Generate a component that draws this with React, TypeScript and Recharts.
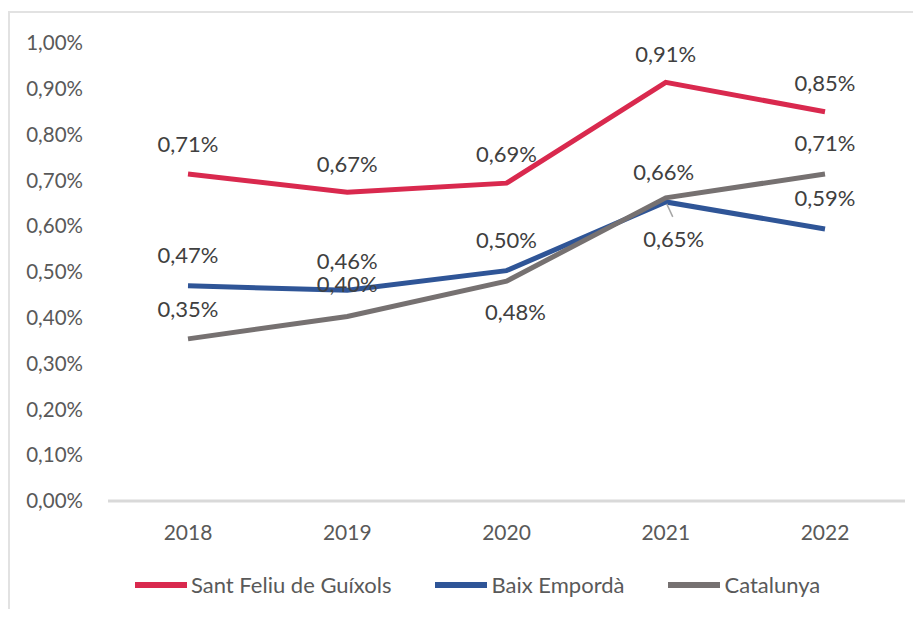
import { LineChart, Line, XAxis, YAxis, LabelList } from "recharts";

const years = ["2018", "2019", "2020", "2021", "2022"];
const santFeliu = [0.714, 0.674, 0.694, 0.914, 0.85];
const baixEmporda = [0.47, 0.46, 0.503, 0.653, 0.594];
const catalunya = [0.354, 0.403, 0.48, 0.662, 0.714];
const yTicks = [0, 0.1, 0.2, 0.3, 0.4, 0.5, 0.6, 0.7, 0.8, 0.9, 1.0];

const series = [
  { key: "santFeliu", name: "Sant Feliu de Guíxols", color: "#d9294e" },
  { key: "baixEmporda", name: "Baix Empordà", color: "#2f5597" },
  { key: "catalunya", name: "Catalunya", color: "#767171" },
];

const data = years.map((year, i) => ({
  year,
  santFeliu: santFeliu[i],
  baixEmporda: baixEmporda[i],
  catalunya: catalunya[i],
}));

const FONT = "Lato, 'Open Sans', sans-serif";

const fmt = (v: number) => v.toFixed(2).replace(".", ",") + "%";

// where each data label sits relative to its point (dx, dy)
const labelOffsets: Record<string, [number, number][]> = {
  santFeliu: [[0, -30], [0, -29], [0, -30], [0, -29], [0, -29]],
  baixEmporda: [[0, -31], [0, -30], [0, -31], [8, 37], [0, -31]],
  catalunya: [[0, -30], [0, -33], [9, 30], [-2, -26], [0, -31]],
};

const makeLabel = (key: string) => (props: any) => {
  const { x, y, value, index } = props;
  const [dx, dy] = labelOffsets[key][index] || [0, -30];
  const leader = key === "baixEmporda" && index === 3;
  return (
    <g>
      {leader && (
        <line x1={x + 1} y1={y + 2} x2={x + 7} y2={y + 15} stroke="#a6a6a6" strokeWidth={1.5} />
      )}
      <text
        x={x + dx}
        y={y + dy}
        textAnchor="middle"
        dominantBaseline="central"
        fill="#404040"
        fontSize={22}
        fontFamily={FONT}
      >
        {fmt(value)}
      </text>
    </g>
  );
};

export default function App() {
  return (
    <div style={{ position: "relative", margin: -8, width: 921, height: 617, overflow: "hidden", background: "#fff" }}>
      <div
        style={{
          position: "absolute",
          left: 8,
          top: 11,
          width: 930,
          height: 620,
          borderTop: "2px solid #e2e2e2",
          borderLeft: "2px solid #e2e2e2",
        }}
      />
      <LineChart
        width={921}
        height={617}
        data={data}
        margin={{ top: 43, right: 16, left: 0, bottom: 86 }}
        style={{ position: "absolute", left: 0, top: 0 }}
      >
        <XAxis
          dataKey="year"
          height={30}
          padding={{ left: 80, right: 80 }}
          axisLine={{ stroke: "#d9d9d9", strokeWidth: 3 }}
          tickLine={false}
          tickMargin={18}
          tick={{ fill: "#595959", fontSize: 21, fontFamily: FONT }}
        />
        <YAxis
          width={108}
          domain={[0, 1]}
          ticks={yTicks}
          axisLine={false}
          tickLine={false}
          tickMargin={19}
          tickFormatter={fmt}
          tick={{ fill: "#595959", fontSize: 20.5, fontFamily: FONT }}
        />
        {series.map((s) => (
          <Line
            key={s.key}
            dataKey={s.key}
            name={s.name}
            stroke={s.color}
            strokeWidth={5}
            dot={false}
            activeDot={false}
            isAnimationActive={false}
          >
            <LabelList dataKey={s.key} content={makeLabel(s.key)} />
          </Line>
        ))}
      </LineChart>
      <div
        style={{
          position: "absolute",
          left: 135,
          top: 572,
          display: "flex",
          alignItems: "center",
          fontFamily: FONT,
        }}
      >
        {series.map((s) => (
          <div key={s.key} style={{ display: "flex", alignItems: "center", marginRight: 44 }}>
            <span style={{ display: "inline-block", width: 52, height: 6, background: s.color, marginRight: 4 }} />
            <span style={{ color: "#595959", fontSize: 22, lineHeight: "26px" }}>{s.name}</span>
          </div>
        ))}
      </div>
    </div>
  );
}
